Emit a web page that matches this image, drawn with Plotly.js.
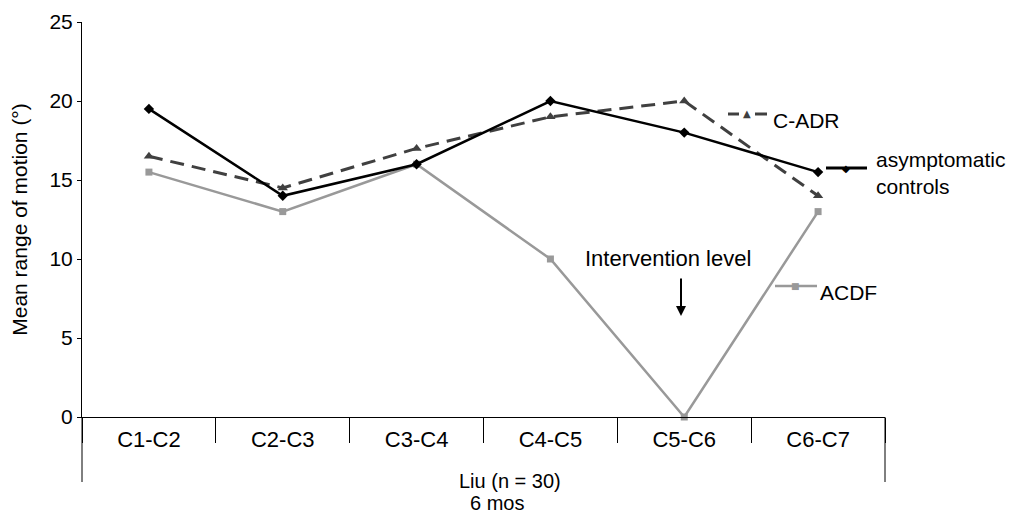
<!DOCTYPE html>
<html>
<head>
<meta charset="utf-8">
<script src="https://cdn.plot.ly/plotly-3.0.1.min.js"></script>
<style>html,body{margin:0;padding:0;background:#fff;}#chart{width:1013px;height:514px;}</style>
</head>
<body>
<div id="chart"></div>
<script>
var levels = ["C1-C2", "C2-C3", "C3-C4", "C4-C5", "C5-C6", "C6-C7"];
var controls = [19.5, 14, 16, 20, 18, 15.5];
var cadr = [16.5, 14.5, 17, 19, 20, 14];
var acdf = [15.5, 13, 16, 10, 0, 13];
var seriesNames = ["asymptomatic<br>controls", "C-ADR", "ACDF"];
var yTitle = "Mean range of motion (°)";
var xNote1 = "Liu (n = 30)";
var xNote2 = "6 mos";
var interventionText = "Intervention level";

var F = "Liberation Sans, Arial, sans-serif";
var black = "#000000", dark = "#404040", gray = "#999999";

var traces = [
  {x: levels, y: acdf, type: "scatter", mode: "lines+markers", name: "ACDF",
   line: {color: gray, width: 2.5}, marker: {symbol: "square", size: 7, color: gray}, cliponaxis: false},
  {x: levels, y: cadr, type: "scatter", mode: "lines+markers", name: "C-ADR",
   line: {color: dark, width: 3, dash: "14px,8px"}, marker: {symbol: "triangle-up", size: 9, color: dark}, cliponaxis: false},
  {x: levels, y: controls, type: "scatter", mode: "lines+markers", name: "asymptomatic controls",
   line: {color: black, width: 2.5}, marker: {symbol: "diamond", size: 8, color: black}, cliponaxis: false}
];

function px(v){return (v-82)/803;}
function py(v){return (417-v)/395;}

var shapes = [
  {type:"line", xref:"paper", yref:"paper", x0:0, x1:0, y0:0, y1:py(482), line:{color:black,width:1}},
  {type:"line", xref:"paper", yref:"paper", x0:1, x1:1, y0:0, y1:py(482), line:{color:black,width:1}},
  // legend sample lines
  {type:"line", xref:"paper", yref:"paper", x0:px(728), x1:px(739), y0:py(114), y1:py(114), line:{color:dark,width:3}},
  {type:"line", xref:"paper", yref:"paper", x0:px(755), x1:px(767), y0:py(114), y1:py(114), line:{color:dark,width:3}},
  {type:"line", xref:"paper", yref:"paper", x0:px(826), x1:px(867), y0:py(168), y1:py(168), line:{color:black,width:3}},
  {type:"line", xref:"paper", yref:"paper", x0:px(775), x1:px(817), y0:py(286), y1:py(286), line:{color:gray,width:2.5}}
];

var annotations = [
  {xref:"paper", yref:"paper", x:px(747), y:py(113), text:"▲", showarrow:false, font:{family:"DejaVu Sans", size:10, color:dark}, xanchor:"center", yanchor:"middle"},
  {xref:"paper", yref:"paper", x:px(846), y:py(168), text:"◆", showarrow:false, font:{family:"DejaVu Sans", size:10, color:black}, xanchor:"center", yanchor:"middle"},
  {xref:"paper", yref:"paper", x:px(795), y:py(286), text:"■", showarrow:false, font:{family:"DejaVu Sans", size:9, color:gray}, xanchor:"center", yanchor:"middle"},
  {xref:"paper", yref:"paper", x:px(771), y:py(120), text:seriesNames[1], showarrow:false, font:{family:F, size:21, color:black}, xanchor:"left", yanchor:"middle"},
  {xref:"paper", yref:"paper", x:px(874), y:py(173), text:seriesNames[0], showarrow:false, align:"left", font:{family:F, size:21, color:black}, xanchor:"left", yanchor:"middle"},
  {xref:"paper", yref:"paper", x:px(818), y:py(292), text:seriesNames[2], showarrow:false, font:{family:F, size:21, color:black}, xanchor:"left", yanchor:"middle"},
  {xref:"paper", yref:"paper", x:px(668), y:py(258), text:interventionText, showarrow:false, font:{family:F, size:22, color:black}, xanchor:"center", yanchor:"middle"},
  {xref:"paper", yref:"paper", x:px(681), y:py(316), ax:0, ay:-39, axref:"pixel", ayref:"pixel", text:"", showarrow:true, arrowhead:2, arrowsize:1, arrowwidth:2, arrowcolor:black, standoff:0},
  {xref:"paper", yref:"paper", x:px(510), y:py(481), text:xNote1, showarrow:false, font:{family:F, size:20, color:black}, xanchor:"center", yanchor:"middle"},
  {xref:"paper", yref:"paper", x:px(497), y:py(503), text:xNote2, showarrow:false, font:{family:F, size:20, color:black}, xanchor:"center", yanchor:"middle"}
];

var layout = {
  width: 1013, height: 514,
  margin: {l: 82, r: 128, t: 22, b: 97, pad: 0},
  paper_bgcolor: "#ffffff", plot_bgcolor: "#ffffff",
  showlegend: false,
  font: {family: F, size: 21, color: black},
  xaxis: {
    type: "category", categoryorder: "array", categoryarray: levels,
    range: [-0.5, 5.5], showline: true, linecolor: black, linewidth: 1,
    ticks: "outside", tickson: "boundaries", ticklen: 25, tickcolor: black, tickwidth: 1,
    ticklabelstandoff: 3,
    showgrid: false, zeroline: false, fixedrange: true,
    tickfont: {family: F, size: 22, color: black}
  },
  yaxis: {
    range: [0, 25], tickvals: [0, 5, 10, 15, 20, 25], ticktext: ["0","5","10","15","20","25"],
    showline: true, linecolor: black, linewidth: 1,
    ticks: "outside", ticklen: 4, tickcolor: black, tickwidth: 1,
    showgrid: false, zeroline: false, fixedrange: true,
    tickfont: {family: F, size: 21, color: black},
    title: {text: yTitle, font: {family: F, size: 21, color: black}, standoff: 16}
  },
  shapes: shapes,
  annotations: annotations
};

Plotly.newPlot("chart", traces, layout, {displayModeBar: false, staticPlot: true});
</script>
</body>
</html>
